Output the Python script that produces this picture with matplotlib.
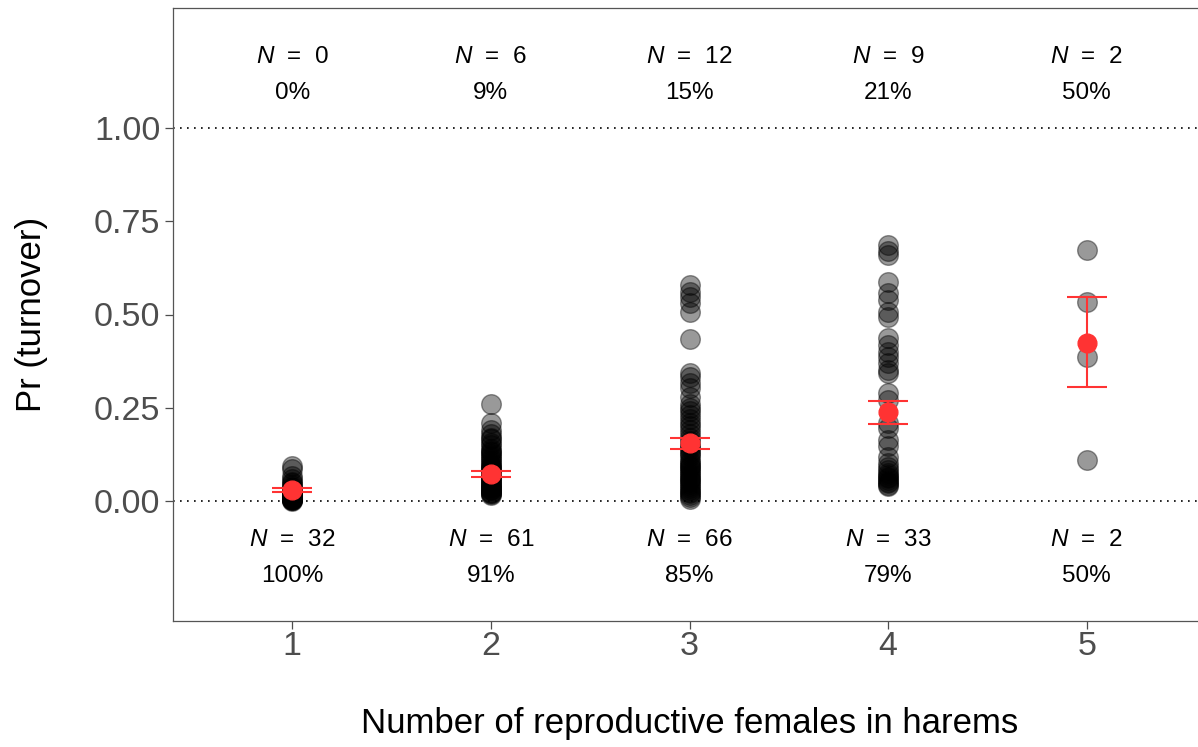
"""Harem turnover probability against the number of reproductive females."""

import matplotlib
matplotlib.use("Agg")
import matplotlib.pyplot as plt

plt.rcParams["font.family"] = ["Liberation Sans", "DejaVu Sans"]
plt.rcParams["mathtext.fontset"] = "custom"
plt.rcParams["mathtext.it"] = "Liberation Sans:italic"
plt.rcParams["mathtext.rm"] = "Liberation Sans"

# Number of reproductive females (x categories)
females = [1, 2, 3, 4, 5]

# Individual predicted probabilities per harem size
pr_1 = [0.094, 0.085, 0.068, 0.060, 0.052, 0.047, 0.042, 0.038, 0.034, 0.030,
        0.027, 0.024, 0.022, 0.020, 0.018, 0.016, 0.015, 0.013, 0.012, 0.011,
        0.010, 0.009, 0.008, 0.007, 0.006, 0.005, 0.005, 0.004, 0.003, 0.003,
        0.002, 0.001]
pr_2 = [0.26, 0.21, 0.19, 0.18, 0.17, 0.165, 0.155, 0.15, 0.14, 0.135, 0.13,
        0.125, 0.12, 0.115, 0.11, 0.105, 0.10, 0.095, 0.09, 0.088, 0.085, 0.08,
        0.078, 0.075, 0.07, 0.068, 0.065, 0.06, 0.058, 0.055, 0.05, 0.048,
        0.045, 0.042, 0.04, 0.038, 0.035, 0.032, 0.03, 0.028, 0.025, 0.022,
        0.02, 0.018, 0.015]
pr_3 = [0.579, 0.561, 0.548, 0.53, 0.508, 0.434, 0.343, 0.333, 0.316, 0.303,
        0.28, 0.26, 0.25, 0.24, 0.23, 0.22, 0.21, 0.20, 0.19, 0.18, 0.17, 0.16,
        0.15, 0.145, 0.14, 0.13, 0.125, 0.12, 0.11, 0.105, 0.10, 0.095, 0.09,
        0.085, 0.08, 0.075, 0.07, 0.065, 0.06, 0.055, 0.05, 0.045, 0.04, 0.035,
        0.03, 0.025, 0.02, 0.015, 0.01, 0.005]
pr_4 = [0.686, 0.671, 0.66, 0.588, 0.557, 0.539, 0.508, 0.494, 0.436, 0.418,
        0.40, 0.387, 0.369, 0.351, 0.342, 0.289, 0.271, 0.208, 0.195, 0.164,
        0.146, 0.119, 0.101, 0.09, 0.083, 0.075, 0.07, 0.065, 0.061, 0.055,
        0.05, 0.047, 0.043, 0.04]
pr_5 = [0.673, 0.534, 0.387, 0.110]
points = [pr_1, pr_2, pr_3, pr_4, pr_5]

# Group means with confidence limits
mean_pr = [0.029, 0.072, 0.155, 0.238, 0.424]
lower_pr = [0.024, 0.065, 0.139, 0.206, 0.306]
upper_pr = [0.034, 0.079, 0.168, 0.269, 0.547]

# Counts and percentages for harems with (top) and without (bottom) turnover
n_top = [0, 6, 12, 9, 2]
pct_top = [0, 9, 15, 21, 50]
n_bottom = [32, 61, 66, 33, 2]
pct_bottom = [100, 91, 85, 79, 50]

GRAY = "#4D4D4D"
RED = "#FF3333"


def plot_turnover(out_path):
    fig = plt.figure(figsize=(11.98, 7.47), dpi=100)
    ax = fig.add_axes([173 / 1198, 126 / 747, 1033 / 1198, 613 / 747])

    for x, vals in zip(females, points):
        ax.scatter([x] * len(vals), vals, s=200, color="black", alpha=0.4,
                   linewidths=1.0, zorder=2)

    ax.axhline(0, color="black", lw=1.2, linestyle=(0, (1, 3.2)), zorder=1)
    ax.axhline(1, color="black", lw=1.2, linestyle=(0, (1, 3.2)), zorder=1)

    yerr = [[m - lo for m, lo in zip(mean_pr, lower_pr)],
            [hi - m for m, hi in zip(mean_pr, upper_pr)]]
    ax.errorbar(females, mean_pr, yerr=yerr, fmt="o", color=RED, ms=13.5,
                ecolor=RED, elinewidth=1.5, capsize=14.5, capthick=1.5, zorder=3)

    # plotmath in the original puts wider gaps around "="
    for x, n, p in zip(females, n_top, pct_top):
        ax.text(x, 1.174, f"$N$  =  {n}", ha="center", va="baseline", fontsize=17.5)
        ax.text(x, 1.078, f"{p}%", ha="center", va="baseline", fontsize=17.5)
    for x, n, p in zip(females, n_bottom, pct_bottom):
        ax.text(x, -0.121, f"$N$  =  {n}", ha="center", va="baseline", fontsize=17.5)
        ax.text(x, -0.217, f"{p}%", ha="center", va="baseline", fontsize=17.5)

    ax.set_xlim(0.4, 5.6)
    ax.set_ylim(-0.322, 1.322)
    ax.set_xticks(females)
    ax.set_yticks([0, 0.25, 0.5, 0.75, 1.0])
    ax.set_yticklabels(["0.00", "0.25", "0.50", "0.75", "1.00"])
    ax.tick_params(colors=GRAY, labelcolor=GRAY, labelsize=24.5, length=5.5,
                   width=0.9)
    ax.tick_params(axis="y", pad=3.5)
    ax.tick_params(axis="x", pad=1.5)
    for side in ["top", "left", "bottom", "right"]:
        ax.spines[side].set_color("#555555")
        ax.spines[side].set_linewidth(0.9)

    ax.set_xlabel("Number of reproductive females in harems", fontsize=25,
                  labelpad=32.5)
    ax.set_ylabel("Pr (turnover)", fontsize=25, labelpad=33)

    fig.savefig(out_path, dpi=100)
    plt.close(fig)


if __name__ == "__main__":
    plot_turnover("out.png")
